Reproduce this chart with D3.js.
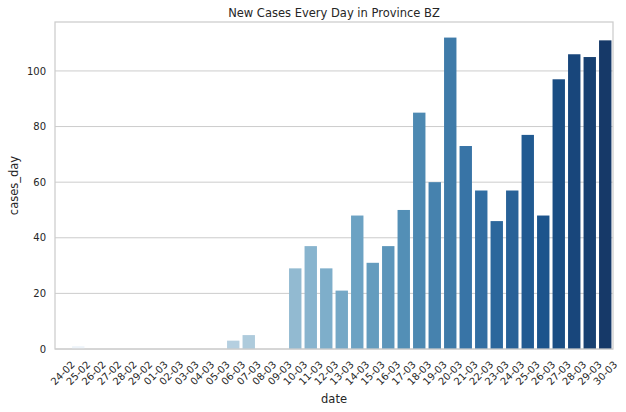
<!DOCTYPE html>
<html>
<head>
<meta charset="utf-8">
<script src="https://cdn.jsdelivr.net/npm/d3@7"></script>
<style>
  body { margin: 0; background: #fff; }
  text { font-family: "DejaVu Sans", sans-serif; fill: #262626; }
</style>
</head>
<body>
<div id="chart"></div>
<script>
// daily data
var dates = ["24-02","25-02","26-02","27-02","28-02","29-02","01-03","02-03","03-03","04-03",
  "05-03","06-03","07-03","08-03","09-03","10-03","11-03","12-03","13-03","14-03",
  "15-03","16-03","17-03","18-03","19-03","20-03","21-03","22-03","23-03","24-03",
  "25-03","26-03","27-03","28-03","29-03","30-03"];
var casesDay = [0,1,0,0,0,0,0,0,0,0,
  0,3,5,0,0,29,37,29,21,48,
  31,37,50,85,60,112,73,57,46,57,
  77,48,97,106,105,111];
var yTicks = [0, 20, 40, 60, 80, 100];

var svgWidth = 626, svgHeight = 412;
var margin = { top: 22, right: 13, bottom: 63, left: 55 };
var width = svgWidth - margin.left - margin.right;
var height = svgHeight - margin.top - margin.bottom;

var svg = d3.select("#chart").append("svg")
  .attr("width", svgWidth)
  .attr("height", svgHeight);

var chartGroup = svg.append("g")
  .attr("transform", `translate(${margin.left}, ${margin.top})`);

var xScale = d3.scaleBand()
  .domain(dates)
  .range([0, width])
  .paddingInner(0.2)
  .paddingOuter(0.1);

var yScale = d3.scaleLinear()
  .domain([0, d3.max(casesDay) * 1.05])
  .range([height, 0]);

// seaborn Blues palette, desaturated like barplot does
var blues = d3.piecewise(d3.interpolateRgb, d3.schemeBlues[9]);
function barColor(i) {
  var t = (i + 1) / (dates.length + 1);
  var c = d3.hsl(blues(t));
  c.s = c.s * 0.75;
  return c.formatHex();
}

// grid
chartGroup.append("g")
  .selectAll("line")
  .data(yTicks)
  .enter()
  .append("line")
  .attr("x1", 0)
  .attr("x2", width)
  .attr("y1", d => yScale(d))
  .attr("y2", d => yScale(d))
  .attr("stroke", "#cccccc")
  .attr("stroke-width", 1);

// bars
chartGroup.selectAll("rect.bar")
  .data(casesDay)
  .enter()
  .append("rect")
  .attr("class", "bar")
  .attr("x", (d, i) => xScale(dates[i]))
  .attr("width", xScale.bandwidth())
  .attr("y", d => yScale(d))
  .attr("height", d => height - yScale(d))
  .attr("fill", (d, i) => barColor(i));

// spines
chartGroup.append("rect")
  .attr("width", width)
  .attr("height", height)
  .attr("fill", "none")
  .attr("stroke", "#cccccc")
  .attr("stroke-width", 1.25);

// x axis
var xAxis = d3.axisBottom(xScale).tickSize(0).tickPadding(0);
var xg = chartGroup.append("g")
  .attr("transform", `translate(0, ${height})`)
  .call(xAxis);
xg.select(".domain").remove();
xg.selectAll("text")
  .attr("y", 0)
  .attr("dy", null)
  .attr("text-anchor", "middle")
  .attr("dominant-baseline", "central")
  .attr("transform", "translate(0, 24) rotate(-45)")
  .style("font-size", "10px")
  .attr("fill", "#262626");

// y axis
var yAxis = d3.axisLeft(yScale).tickValues(yTicks).tickSize(0).tickPadding(9);
var yg = chartGroup.append("g").call(yAxis);
yg.select(".domain").remove();
yg.selectAll("text")
  .style("font-size", "10px")
  .attr("fill", "#262626");

// labels
svg.append("text")
  .attr("x", margin.left + width / 2)
  .attr("y", 17)
  .attr("text-anchor", "middle")
  .style("font-size", "11.5px")
  .text("New Cases Every Day in Province BZ");

svg.append("text")
  .attr("x", margin.left + width / 2)
  .attr("y", 403)
  .attr("text-anchor", "middle")
  .style("font-size", "11.5px")
  .text("date");

svg.append("text")
  .attr("transform", `translate(18, ${margin.top + height / 2}) rotate(-90)`)
  .attr("text-anchor", "middle")
  .style("font-size", "11.5px")
  .text("cases_day");
</script>
</body>
</html>
